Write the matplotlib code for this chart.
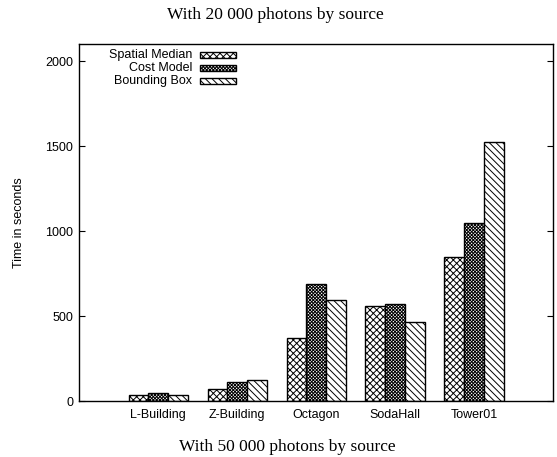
import numpy as np
import matplotlib
matplotlib.use('Agg')
import matplotlib.pyplot as plt
from matplotlib.patches import Rectangle

# values (seconds)
scenes = ['L-Building', 'Z-Building', 'Octagon', 'SodaHall', 'Tower01']
spatial_median = [35, 70, 369, 561, 849]
cost_model = [47, 110, 686, 571, 1045]
bounding_box = [38, 123, 594, 463, 1522]
series_names = ['Spatial Median', 'Cost Model', 'Bounding Box']
yticks = [0, 500, 1000, 1500, 2000]

plt.rcParams['font.family'] = ['Liberation Sans', 'DejaVu Sans']
plt.rcParams['hatch.linewidth'] = 0.7
plt.rcParams['hatch.color'] = 'black'

fig = plt.figure(figsize=(5.57, 4.57), dpi=100)
ax = fig.add_axes([0.1424, 0.1225, 0.8504, 0.7812])

hatches = ['xxxxx', 'xxxxxxxxxx', '\\\\\\\\\\']
series = [spatial_median, cost_model, bounding_box]
width = 0.25
x = np.arange(len(scenes))
for i, (vals, h) in enumerate(zip(series, hatches)):
   ax.bar(x + (i - 1) * width, vals, width, facecolor='white', edgecolor='black',
          linewidth=1.0, hatch=h)

ax.set_xlim(-1, 5)
ax.set_ylim(0, 2100)
ax.set_xticks(x)
ax.set_xticklabels(scenes, fontsize=9)
ax.set_yticks(yticks)
ax.set_yticklabels([str(v) for v in yticks], fontsize=9)
ax.tick_params(axis='x', length=0, pad=5.5)
ax.tick_params(axis='y', direction='in', length=4, width=0.8, pad=4.5, right=True)
for s in ax.spines.values():
   s.set_linewidth(1.0)

ax.set_ylabel('Time in seconds', fontsize=9)
ax.yaxis.set_label_coords(-0.114, 0.5)

# gnuplot style key: text on the left, right aligned, sample box on the right
rows = [0.969, 0.933, 0.896]
for name, h, ry in zip(series_names, hatches, rows):
   ax.text(0.238, ry, name, transform=ax.transAxes, ha='right', va='center', fontsize=9)
   ax.add_patch(Rectangle((0.2548, ry - 0.009), 0.076, 0.018, transform=ax.transAxes,
                          facecolor='white', edgecolor='black', linewidth=1.0, hatch=h))

fig.text(0.495, 0.967, 'With 20 000 photons by source', ha='center', va='center',
         fontsize=12.5, family=['Liberation Serif', 'DejaVu Serif'])
fig.text(0.515, 0.022, 'With 50 000 photons by source', ha='center', va='center',
         fontsize=12.5, family=['Liberation Serif', 'DejaVu Serif'])

fig.savefig('out.png', dpi=100)
